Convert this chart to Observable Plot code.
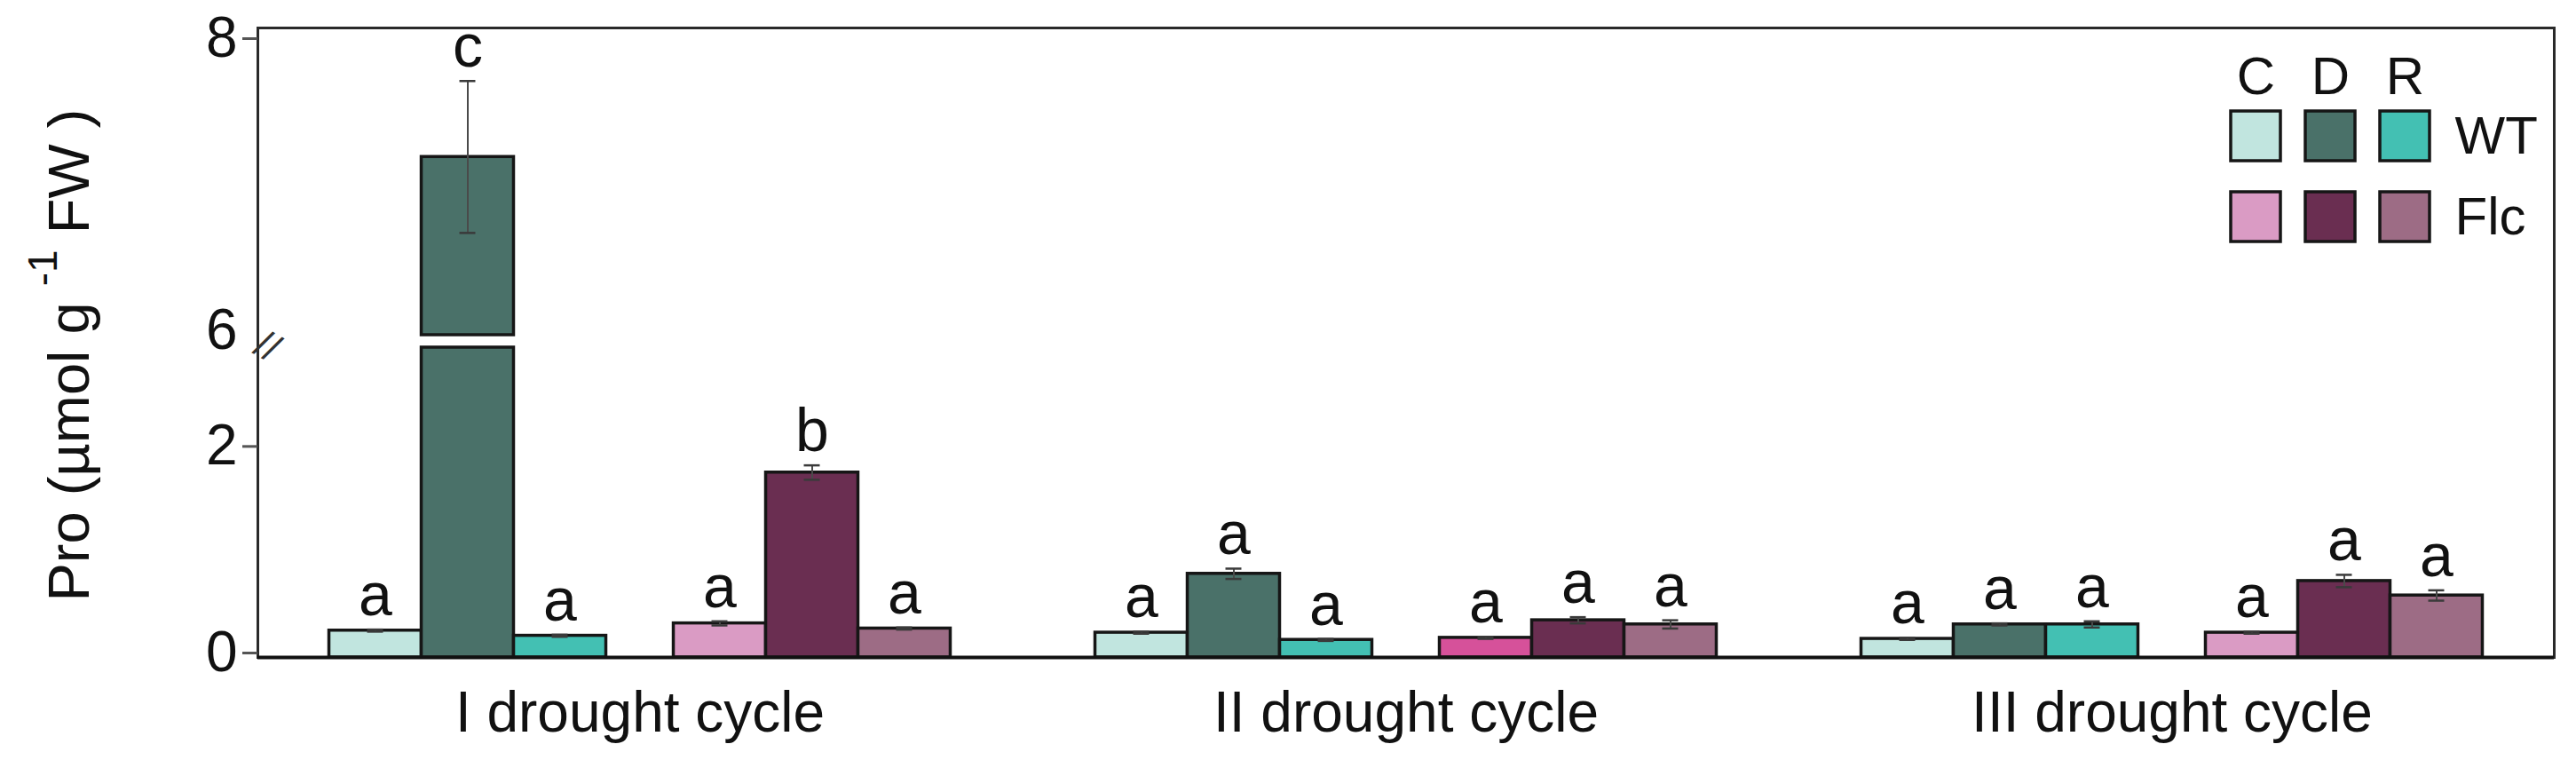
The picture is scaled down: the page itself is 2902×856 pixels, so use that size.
<!DOCTYPE html>
<html>
<head>
<meta charset="utf-8">
<script src="https://cdn.jsdelivr.net/npm/d3@7"></script>
<script src="https://cdn.jsdelivr.net/npm/@observablehq/plot@0.6"></script>
<style>
  body { margin: 0; background: #fff; }
  #wrap { position: relative; width: 2902px; height: 856px; font-family: "Liberation Sans", Arial, sans-serif; }
  #legend { position: absolute; left: 2440px; top: 0px; }
  #main { position: absolute; left: 0; top: 0; }
</style>
</head>
<body>
<div id="wrap"><div id="main"></div><div id="legend"></div></div>
<script>
// ---- data ----
const cycles = ["I drought cycle", "II drought cycle", "III drought cycle"];
const genotypes = ["WT", "Flc"];
const conditions = ["C", "D", "R"];
// values per cycle, in order C, D, R
const wtMean   = [0.26, 7.22, 0.21,   0.24, 0.81, 0.17,   0.18, 0.32, 0.32];
const wtErr    = [0.01, 0.52, 0.01,   0.01, 0.05, 0.01,   0.01, 0.01, 0.03];
const wtLetter = ["a", "c", "a",      "a", "a", "a",      "a", "a", "a"];
const flcMean   = [0.33, 1.79, 0.28,  0.19, 0.36, 0.32,   0.24, 0.74, 0.60];
const flcErr    = [0.02, 0.07, 0.01,  0.01, 0.03, 0.04,   0.01, 0.06, 0.05];
const flcLetter = ["a", "b", "a",     "a", "a", "a",      "a", "a", "a"];
const wtColors  = ["#c1e5df", "#4a7169", "#43c0b3"];
const flcColors = ["#da9bc4", "#6a2e51", "#9d6c85"];
const flcControlCycleIIColor = "#d6519a";
const yTicksMarked = [0, 2, 8];
const yTickBreak = [6];
const yBreak = [3, 6];
const yMax = 8;
const yTitle = ["Pro (µmol g ", "-1", " FW )"];

// ---- table ----
const rows = [];
cycles.forEach((cy, i) => {
  genotypes.forEach((g) => {
    conditions.forEach((c, ci) => {
      const k = i * 3 + ci;
      const isWT = g === "WT";
      let color = (isWT ? wtColors : flcColors)[ci];
      if (!isWT && c === "C" && i === 1) color = flcControlCycleIIColor;
      rows.push({
        cycle: cy, genotype: g, condition: c,
        mean: (isWT ? wtMean : flcMean)[k],
        err: (isWT ? wtErr : flcErr)[k],
        letter: (isWT ? wtLetter : flcLetter)[k],
        color
      });
    });
  });
});

// ---- layout sizes ----
const BAR = 104, GAP = 76, BAND = 6 * BAR + GAP;
const slot = (g, c) => genotypes.indexOf(g) * (3 * BAR + GAP) + conditions.indexOf(c) * BAR;
const FONT = "'Liberation Sans', Arial, Helvetica, sans-serif";

const marks = [];
genotypes.forEach((g) => conditions.forEach((c) => {
  const sel = rows.filter((r) => r.genotype === g && r.condition === c);
  const left = slot(g, c), right = BAND - left - BAR;
  const barStyle = {x: "cycle", fill: "color", stroke: "#161616", strokeWidth: 3.5, insetLeft: left, insetRight: right};
  marks.push(Plot.barY(sel, {...barStyle, y1: 0, y2: (d) => Math.min(d.mean, yBreak[0])}));
  marks.push(Plot.barY(sel.filter((d) => d.mean > yBreak[1]), {...barStyle, y1: yBreak[1], y2: "mean"}));
}));
genotypes.forEach((g) => conditions.forEach((c) => {
  const sel = rows.filter((r) => r.genotype === g && r.condition === c);
  const left = slot(g, c), center = left + BAR / 2;
  marks.push(Plot.ruleX(sel, {x: "cycle", y1: (d) => d.mean - d.err, y2: (d) => d.mean + d.err, dx: center - BAND / 2, stroke: "#4a4a4a", strokeWidth: 2}));
  marks.push(Plot.tickY(sel, {x: "cycle", y: (d) => d.mean + d.err, insetLeft: center - 9, insetRight: BAND - center - 9, stroke: "#3a3a3a", strokeWidth: 2.5}));
  marks.push(Plot.tickY(sel, {x: "cycle", y: (d) => d.mean - d.err, insetLeft: center - 9, insetRight: BAND - center - 9, stroke: "#3a3a3a", strokeWidth: 2.5}));
  marks.push(Plot.text(sel, {x: "cycle", y: (d) => d.mean + d.err, text: "letter", dx: center - BAND / 2, dy: -16, lineAnchor: "bottom", fontSize: 68, fill: "#111"}));
}));

const chart = Plot.plot({
  width: 2902,
  height: 856,
  marginLeft: 290,
  marginRight: 25,
  marginTop: 31,
  marginBottom: 116,
  style: {fontFamily: FONT, background: "#fff", color: "#111"},
  x: {domain: cycles, paddingInner: 0.1889, paddingOuter: 0.0933, round: false},
  y: {type: "linear", domain: [0, yBreak[0], yBreak[1], yMax], range: [740, 391, 377, 48], label: null},
  color: {type: "identity"},
  marks: [
    ...marks,
    Plot.frame({stroke: "#2a2a2a", strokeWidth: 3}),
    Plot.ruleY([0], {stroke: "#111", strokeWidth: 4}),
    Plot.axisY({ticks: yTicksMarked, tickSize: 17, tickPadding: 6, fontSize: 64, stroke: "#555", strokeWidth: 3, dy: -5, label: null}),
    Plot.axisY({ticks: yTickBreak, tickSize: 0, tickPadding: 23, fontSize: 64, dy: -5, label: null}),
    Plot.text([(yBreak[0] + yBreak[1]) / 2], {y: (d) => d, text: () => "//", frameAnchor: "left", rotate: 30, fontSize: 44, fill: "#333"}),
    Plot.axisX({tickSize: 0, tickPadding: 38, fontSize: 64, label: null})
  ]
});

// y-axis title with superscript
const t = d3.select(chart).append("text")
  .attr("transform", "translate(100,400) rotate(-90)")
  .attr("text-anchor", "middle")
  .attr("font-size", 65)
  .attr("fill", "#111")
  .attr("font-family", FONT);
t.append("tspan").text(yTitle[0]);
t.append("tspan").attr("dy", -36).attr("font-size", 46).text(yTitle[1]);
t.append("tspan").attr("dy", 36).text(yTitle[2]);

document.getElementById("main").appendChild(chart);

// ---- legend ----
const legendCells = [];
genotypes.forEach((g, gi) => conditions.forEach((c, ci) => {
  legendCells.push({genotype: g, condition: c, color: (gi === 0 ? wtColors : flcColors)[ci]});
}));
const legend = Plot.plot({
  width: 440,
  height: 300,
  marginLeft: 72,
  marginRight: 143,
  marginTop: 125,
  marginBottom: 28,
  style: {fontFamily: FONT, background: "transparent", color: "#111"},
  x: {domain: conditions, paddingInner: 0.337, paddingOuter: 0},
  y: {domain: genotypes, paddingInner: 0.385, paddingOuter: 0},
  color: {type: "identity"},
  marks: [
    Plot.cell(legendCells, {x: "condition", y: "genotype", fill: "color", stroke: "#161616", strokeWidth: 3.5}),
    Plot.axisX({anchor: "top", tickSize: 0, tickPadding: 20, fontSize: 60, label: null}),
    Plot.axisY({anchor: "right", tickSize: 0, tickPadding: 28, fontSize: 60, label: null})
  ]
});
document.getElementById("legend").appendChild(legend);
</script>
</body>
</html>
